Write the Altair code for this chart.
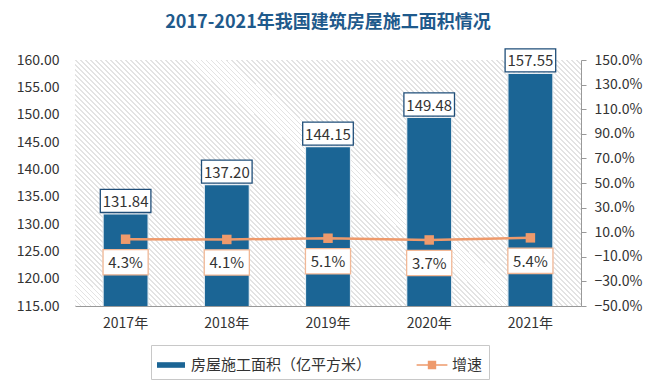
import altair as alt
import pandas as pd

years = ["2017年", "2018年", "2019年", "2020年", "2021年"]
area = [131.84, 137.20, 144.15, 149.48, 157.55]
growth = [0.043, 0.041, 0.051, 0.037, 0.054]
series_bar = "房屋施工面积（亿平方米）"
series_line = "增速"

df = pd.DataFrame({
    "year": years,
    "area": area,
    "growth": growth,
    "area_label": [f"{v:.2f}" for v in area],
    "growth_label": [f"{v*100:.1f}%" for v in growth],
    "s_bar": series_bar,
    "s_line": series_line,
})

BLUE = "#1b6595"
ORANGE = "#ee9a6c"
FONT = "Noto Sans CJK SC"

# diagonal hatch background for the plot area (style only)
n_periods = 150
stops = []
for i in range(n_periods):
    a = i / n_periods
    w = 1 / n_periods
    stops += [
        {"offset": round(a, 5), "color": "#e3e3e3"},
        {"offset": round(a + 0.38 * w, 5), "color": "#e3e3e3"},
        {"offset": round(a + 0.38 * w, 5), "color": "#ffffff"},
        {"offset": round(a + w, 5), "color": "#ffffff"},
    ]
hatch = {"gradient": "linear", "x1": 0, "y1": 1, "x2": 1.202, "y2": 0.416, "stops": stops}

color_scale = alt.Scale(domain=[series_bar, series_line], range=[BLUE, ORANGE])
shape_expr = ("datum.value === '增速' ? "
              "'M-1.1,-0.05H1.1V0.05H-1.1Z M-0.3,-0.3H0.3V0.3H-0.3Z' : "
              "'M-1,-0.2H1V0.2H-1Z'")
fill_expr = "datum.value === '增速' ? '%s' : '%s'" % (ORANGE, BLUE)
legend = alt.Legend(
    title=None, orient="none", direction="horizontal", legendX=76, legendY=285,
    labelFontSize=15, labelFont=FONT, labelColor="#333", labelLimit=400,
    symbolSize=784, columnPadding=44, labelOffset=6,
    symbolType=alt.ExprRef(shape_expr),
    symbolFillColor=alt.ExprRef(fill_expr),
    symbolStrokeWidth=0,
    strokeColor="#c8c8c8", padding=6,
)

x = alt.X("year:N", sort=years, title=None,
          axis=alt.Axis(labelAngle=0, labelFontSize=14, labelFont=FONT, labelColor="#333",
                        ticks=False, domainColor="#999", labelPadding=10),
          scale=alt.Scale(paddingInner=0.56, paddingOuter=0.28))

left_axis = alt.Axis(format=".2f", values=[115, 120, 125, 130, 135, 140, 145, 150, 155, 160],
                     labelFontSize=14, labelFont=FONT, labelColor="#333", domain=False,
                     ticks=False, grid=False, labelPadding=16, title=None)
ly = alt.Scale(domain=[115, 160], nice=False, zero=False)

right_axis = alt.Axis(format=".1%", values=[-0.5, -0.3, -0.1, 0.1, 0.3, 0.5, 0.7, 0.9, 1.1, 1.3, 1.5],
                      orient="right", labelFontSize=14, labelFont=FONT, labelColor="#333",
                      domainColor="#999", tickColor="#999", tickSize=5, grid=False,
                      labelPadding=8, title=None)
ry = alt.Scale(domain=[-0.5, 1.5], nice=False, zero=False)

base = alt.Chart(df)

bg = alt.Chart(pd.DataFrame({"bg": [0]})).mark_rect(fill=hatch, strokeWidth=0).encode(
    x=alt.value(0), x2=alt.value("width"), y=alt.value(0), y2=alt.value("height"))

bars = base.mark_bar(size=45, stroke="#e8eef3", strokeWidth=1.2, clip=True).encode(
    x=x,
    y=alt.Y("area:Q", scale=ly, axis=left_axis),
    color=alt.Color("s_bar:N", scale=color_scale, legend=legend),
)
box_path = "M-2.3,-1.05H2.3V1.05H-2.3Z"
vbox = base.mark_point(shape=box_path, size=484, filled=False, fill="white", fillOpacity=1,
                       stroke="#1f4e79", strokeWidth=1.3, opacity=1, yOffset=-13).encode(
    x=x, y=alt.Y("area:Q", scale=ly, axis=left_axis))
vtext = base.mark_text(fontSize=15, font=FONT, color="#333", yOffset=-12).encode(
    x=x, y=alt.Y("area:Q", scale=ly, axis=left_axis), text="area_label:N")
left = alt.layer(bg, bars, vbox, vtext)

line = base.mark_line(strokeWidth=2.5).encode(
    x=x,
    y=alt.Y("growth:Q", scale=ry, axis=right_axis),
    color=alt.Color("s_line:N", scale=color_scale, legend=legend),
)
pts = base.mark_point(shape="square", size=90, filled=True, color=ORANGE, opacity=1).encode(
    x=x, y=alt.Y("growth:Q", scale=ry, axis=right_axis))
gbox_path = "M-2.05,-1.15H2.05V1.15H-2.05Z"
gbox = base.mark_point(shape=gbox_path, size=484, filled=False, fill="white", fillOpacity=1,
                       stroke="#f2b896", strokeWidth=1.3, opacity=1, yOffset=23).encode(
    x=x, y=alt.Y("growth:Q", scale=ry, axis=right_axis))
gtext = base.mark_text(fontSize=15, font=FONT, color="#333", yOffset=24).encode(
    x=x, y=alt.Y("growth:Q", scale=ry, axis=right_axis), text="growth_label:N")
right = alt.layer(line, pts, gbox, gtext)

chart = alt.layer(left, right).resolve_scale(y="independent").properties(
    width=506, height=246,
    padding={"left": 8, "right": 5, "top": 6, "bottom": 4},
    title=alt.TitleParams("2017-2021年我国建筑房屋施工面积情况", fontSize=18, font=FONT,
                          fontWeight="bold", color="#1f5a8c", anchor="middle", offset=14),
).configure_view(stroke=None)

chart.save("out.html", embed_options={"renderer": "svg", "actions": False})
